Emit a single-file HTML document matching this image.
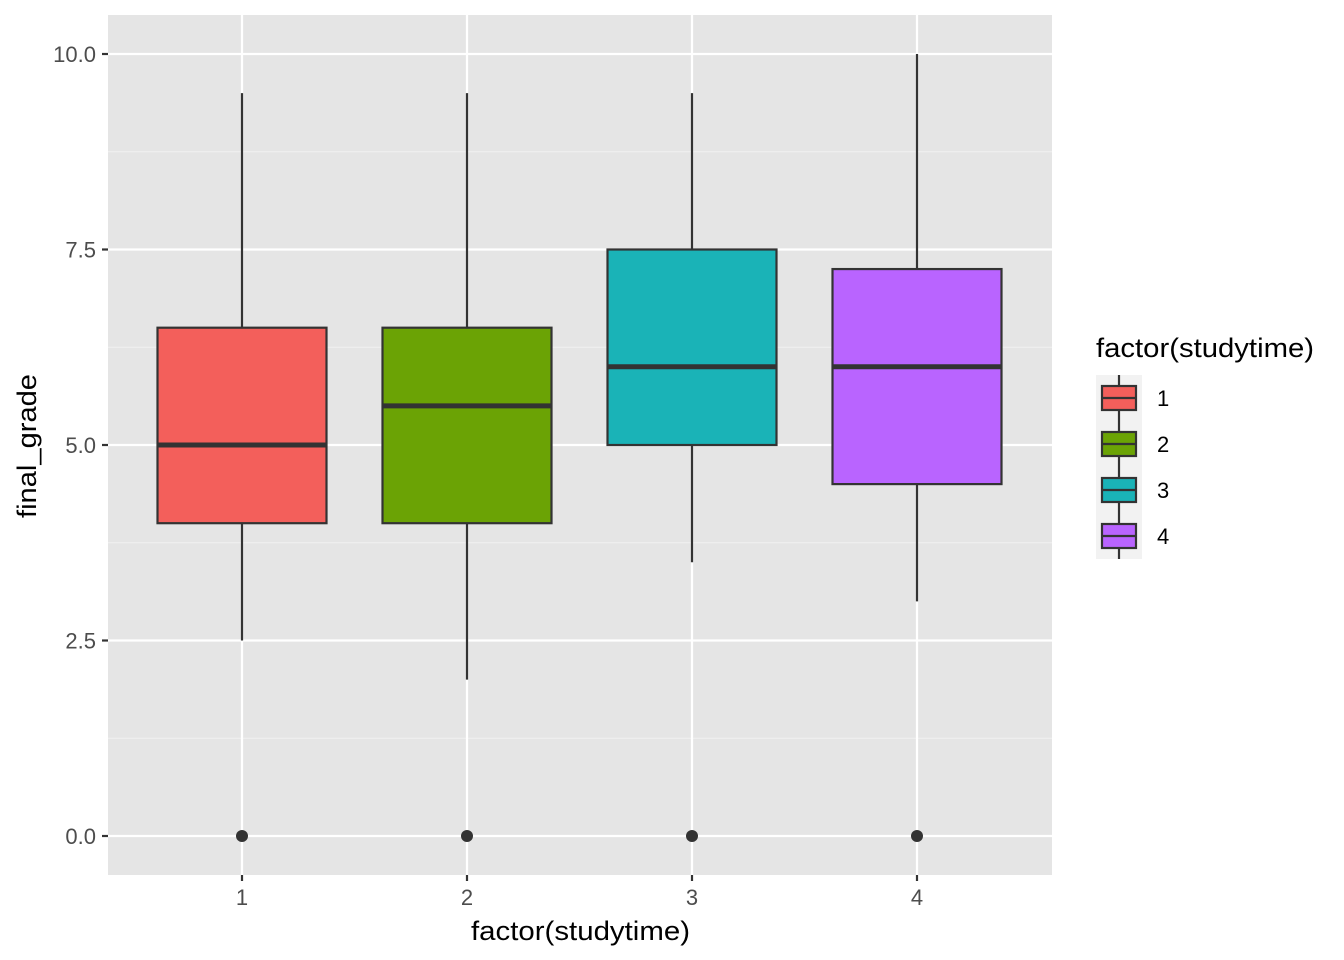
<!DOCTYPE html>
<html><head><meta charset="utf-8"><style>
body{margin:0;background:#fff;}
svg{display:block;font-family:"Liberation Sans",Arial,sans-serif;}
</style></head><body>
<svg id="chart" width="1344" height="960">
<rect x="108" y="15" width="944" height="860" fill="#e5e5e5"/>
<g id="grid"></g><g id="boxes"></g><g id="axes"></g><g id="legend"></g>
<text x="471" y="940" font-size="27" textLength="219" lengthAdjust="spacingAndGlyphs" fill="#000">factor(studytime)</text>
<text transform="translate(36,518) rotate(-90)" font-size="27" textLength="144" lengthAdjust="spacingAndGlyphs" fill="#000">final_grade</text>
</svg>
<script>
const categories=["1","2","3","4"];
const lowerWhisker=[2.5,2,3.5,3];
const q1=[4,4,5,4.5];
const medians=[5,5.5,6,6];
const q3=[6.5,6.5,7.5,7.25];
const upperWhisker=[9.5,9.5,9.5,10];
const outliers=[[0],[0],[0],[0]];
const yTicks=[0,2.5,5,7.5,10];
const yTickLabels=["0.0","2.5","5.0","7.5","10.0"];
const colors=["#F35F5B","#6BA305","#1AB3B7","#B964FF"];

const NS="http://www.w3.org/2000/svg";
const y=v=>836-v*78.2;
const x=i=>242+i*225;
const bw=169;
function mk(tag,attrs,parent){const e=document.createElementNS(NS,tag);for(const k in attrs)e.setAttribute(k,attrs[k]);parent.appendChild(e);return e;}
const grid=document.getElementById('grid'),boxes=document.getElementById('boxes'),axes=document.getElementById('axes'),legend=document.getElementById('legend');
for(let i=0;i<yTicks.length-1;i++){const l=mk('line',{x1:108,x2:1052,y1:y((yTicks[i]+yTicks[i+1])/2),y2:y((yTicks[i]+yTicks[i+1])/2),stroke:'#f2f2f2','stroke-width':1.1},grid);

}
yTicks.forEach((t,i)=>{const l=mk('line',{x1:108,x2:1052,y1:y(t),y2:y(t),stroke:'#fff','stroke-width':2.2},grid);


const tk=mk('line',{x1:102,x2:108,y1:y(t),y2:y(t),stroke:'#333','stroke-width':2.2},axes);


const tx=mk('text',{x:96,y:y(t)+8,'font-size':22,'text-anchor':'end',fill:'#4d4d4d'},axes);tx.textContent=yTickLabels[i];

});
categories.forEach((c,i)=>{const l=mk('line',{x1:x(i),x2:x(i),y1:15,y2:875,stroke:'#fff','stroke-width':2.2},grid);


const tk=mk('line',{x1:x(i),x2:x(i),y1:875,y2:881,stroke:'#333','stroke-width':2.2},axes);


const tx=mk('text',{x:x(i),y:905,'font-size':22,'text-anchor':'middle',fill:'#4d4d4d'},axes);tx.textContent=c;


const g=mk('g',{},boxes);


mk('line',{x1:x(i),x2:x(i),y1:y(upperWhisker[i]),y2:y(q3[i]),stroke:'#333','stroke-width':2.2},g);
mk('line',{x1:x(i),x2:x(i),y1:y(q1[i]),y2:y(lowerWhisker[i]),stroke:'#333','stroke-width':2.2},g);
mk('rect',{x:x(i)-bw/2,y:y(q3[i]),width:bw,height:y(q1[i])-y(q3[i]),fill:colors[i],stroke:'#333','stroke-width':2.2},g);
mk('line',{x1:x(i)-bw/2,x2:x(i)+bw/2,y1:y(medians[i]),y2:y(medians[i]),stroke:'#333','stroke-width':5},g);
outliers[i].forEach(o=>{const p=mk('circle',{cx:x(i),cy:y(o),r:6,fill:'#333'},g);

});
const ly=398+i*46;
const lg=mk('g',{},legend);


mk('rect',{x:1096,y:ly-23,width:46,height:46,fill:'#f2f2f2'},lg);
mk('line',{x1:1119,x2:1119,y1:ly-23,y2:ly+23,stroke:'#333','stroke-width':2.2},lg);
mk('rect',{x:1102,y:ly-12,width:34,height:24,fill:colors[i],stroke:'#333','stroke-width':2.2},lg);
mk('line',{x1:1102,x2:1136,y1:ly,y2:ly,stroke:'#333','stroke-width':2.2},lg);
const lt=mk('text',{x:1157,y:ly+8,'font-size':22,fill:'#000'},lg);lt.textContent=c;});
const lt=mk('text',{x:1096,y:357,'font-size':27,textLength:218,lengthAdjust:'spacingAndGlyphs',fill:'#000'},legend);lt.textContent='factor(studytime)';


</script>
</body></html>
